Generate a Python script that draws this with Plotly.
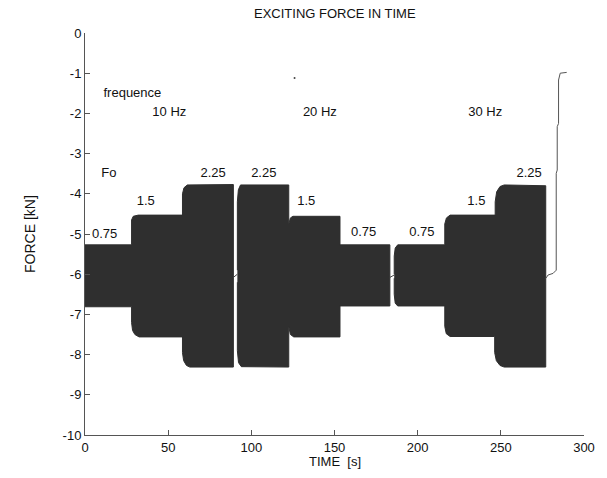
import plotly.graph_objects as go

# ---- data (time in s, force in kN) ----
# Block A : 10 Hz, Fo = 0.75 / 1.5 / 2.25
a_up_t = [0, 28.0, 28.0, 29.0, 32.0, 58.6, 58.6, 59.5, 61.5, 89.2]
a_up_f = [-5.27, -5.27, -4.65, -4.56, -4.53, -4.53, -4.0, -3.85, -3.78, -3.77]
a_lo_t = [0, 28.0, 28.0, 28.6, 30.0, 32.5, 58.6, 58.6, 59.3, 61.0, 63.0, 89.2]
a_lo_f = [-6.81, -6.81, -7.2, -7.4, -7.5, -7.56, -7.56, -7.95, -8.15, -8.27, -8.31, -8.31]

# Block B : 20 Hz, Fo = 2.25 / 1.5 / 0.75
b_up_t = [91.6, 91.6, 92.2, 93.5, 122.5, 122.5, 123.5, 125.0, 153.3, 153.3, 183.3]
b_up_f = [-5.9, -4.2, -3.9, -3.78, -3.78, -4.75, -4.6, -4.56, -4.56, -5.27, -5.27]
b_lo_t = [91.6, 91.6, 92.3, 94.0, 122.5, 122.5, 123.5, 125.5, 153.3, 153.3, 183.3]
b_lo_f = [-6.2, -7.9, -8.2, -8.3, -8.31, -7.3, -7.5, -7.56, -7.56, -6.79, -6.79]

# Block C : 30 Hz, Fo = 0.75 / 1.5 / 2.25
c_up_t = [185.9, 185.9, 186.5, 188.0, 216.3, 216.3, 217.3, 219.5, 246.6, 246.6, 247.5, 249.5, 252.0, 277.0]
c_up_f = [-6.0, -5.55, -5.35, -5.27, -5.27, -4.75, -4.6, -4.53, -4.53, -4.2, -3.95, -3.82, -3.78, -3.8]
c_lo_t = [185.9, 185.9, 186.5, 188.0, 216.3, 216.3, 217.2, 219.5, 246.3, 246.3, 247.3, 249.5, 252.0, 277.0]
c_lo_f = [-6.1, -6.5, -6.72, -6.79, -6.79, -7.3, -7.48, -7.55, -7.55, -7.95, -8.15, -8.27, -8.31, -8.31]

# mean signal visible in the gaps
gap1_t = [89.2, 91.6]
gap1_f = [-6.08, -6.0]
gap2_t = [183.3, 185.9]
gap2_f = [-6.08, -6.02]

# final ramp-up of the static force
tail_t = [277.0, 277.1, 278.4, 281.4, 283.3, 283.3, 283.9, 283.9, 284.7, 284.7, 285.7, 289.6]
tail_f = [-6.1, -6.10, -6.02, -5.98, -5.90, -3.49, -3.41, -2.33, -2.25, -1.17, -1.0, -0.98]

# stray point
dot_t = [126.0]
dot_f = [-1.12]

# text labels
lab_t = [28.5, 50.7, 141.2, 240.6, 14.4, 11.8, 36.5, 77.0, 107.5, 133.0, 167.5, 202.5, 235.3, 267.0]
lab_f = [-1.52, -1.99, -1.99, -1.99, -3.49, -5.02, -4.2, -3.49, -3.49, -4.2, -4.98, -4.98, -4.2, -3.49]
lab_s = ["frequence", "10 Hz", "20 Hz", "30 Hz", "Fo", "0.75", "1.5", "2.25", "2.25",
         "1.5", "0.75", "0.75", "1.5", "2.25"]

x_ticks = [0, 50, 100, 150, 200, 250, 300]
y_ticks = [0, -1, -2, -3, -4, -5, -6, -7, -8, -9, -10]

FILL = "#2f2f2f"
FONT = "Liberation Sans, Arial, sans-serif"
FS = 13

fig = go.Figure()
for ut, uf, lt, lf in [(a_up_t, a_up_f, a_lo_t, a_lo_f),
                       (b_up_t, b_up_f, b_lo_t, b_lo_f),
                       (c_up_t, c_up_f, c_lo_t, c_lo_f)]:
    xs = ut + lt[::-1]
    ys = uf + lf[::-1]
    fig.add_trace(go.Scatter(x=xs, y=ys, mode="lines", fill="toself",
                             fillcolor=FILL, line=dict(color=FILL, width=1),
                             hoverinfo="skip", showlegend=False))

for gt, gf in [(gap1_t, gap1_f), (gap2_t, gap2_f)]:
    fig.add_trace(go.Scatter(x=gt, y=gf, mode="lines", line=dict(color="#444", width=1),
                             showlegend=False))

fig.add_trace(go.Scatter(x=tail_t, y=tail_f, mode="lines",
                         line=dict(color="#555", width=1), showlegend=False))
fig.add_trace(go.Scatter(x=dot_t, y=dot_f, mode="markers",
                         marker=dict(color="#444", size=2), showlegend=False))

fig.add_trace(go.Scatter(x=lab_t, y=lab_f, mode="text", text=lab_s,
                         textposition="middle center",
                         textfont=dict(family=FONT, size=FS, color="#111"),
                         showlegend=False))

axis_common = dict(showgrid=False, zeroline=False, showline=True, linecolor="#555",
                   linewidth=1, ticks="inside", ticklen=5, tickcolor="#555",
                   tickfont=dict(family=FONT, size=FS, color="#111"), mirror=False)

fig.update_xaxes(range=[0, 300], tickvals=x_ticks, ticktext=[str(v) for v in x_ticks],
                 **axis_common)
fig.update_yaxes(range=[-10, 0], tickvals=y_ticks, ticktext=[str(v) for v in y_ticks],
                 **axis_common)

fig.update_layout(
    width=607, height=478,
    margin=dict(l=85, r=12, t=33, b=43),
    plot_bgcolor="white", paper_bgcolor="white",
    font=dict(family=FONT, size=FS, color="#111"),
    showlegend=False,
    annotations=[
        dict(text="EXCITING FORCE IN TIME", xref="paper", yref="paper", x=0.5, y=1,
             yshift=20, showarrow=False, xanchor="center", yanchor="middle",
             font=dict(family=FONT, size=FS, color="#111")),
        dict(text="TIME  [s]", xref="paper", yref="paper", x=0.5, y=0,
             yshift=-26, showarrow=False, xanchor="center", yanchor="middle",
             font=dict(family=FONT, size=FS, color="#111")),
        dict(text="FORCE [kN]", xref="paper", yref="paper", x=0, y=0.5,
             xshift=-55, showarrow=False, textangle=-90, xanchor="center",
             yanchor="middle", font=dict(family=FONT, size=14, color="#111")),
    ],
)

fig.write_html("out.html")
